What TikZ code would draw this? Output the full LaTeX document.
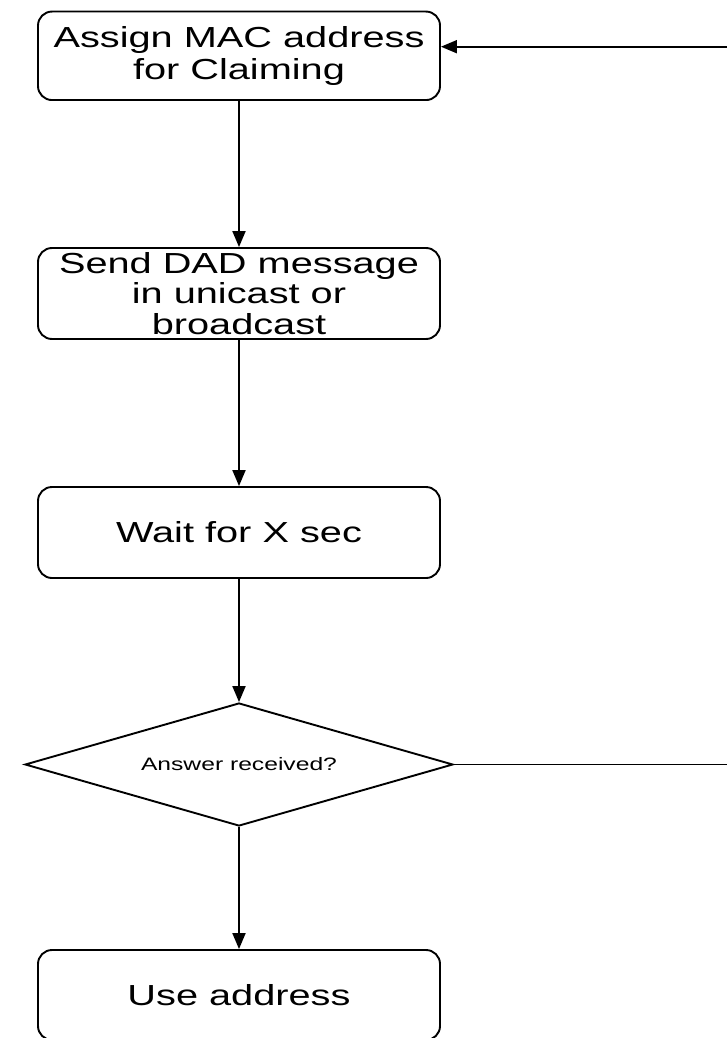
\documentclass[tikz,border=0pt]{standalone}
\usepackage{fontspec}
\newfontfamily\flowfont[FakeStretch=1.37]{Liberation Sans}
\usetikzlibrary{shapes.geometric,arrows.meta}
\tikzset{
  procbox/.style={draw=black, line width=1.9pt, rounded corners=14pt,
    minimum width=402pt, inner sep=0pt, align=center,
    font=\flowfont\fontsize{29pt}{30.5pt}\selectfont},
  decbox/.style={draw=black, line width=1.9pt, diamond, aspect=3.5,
    minimum width=428pt, minimum height=123pt, inner sep=0pt,
    font=\flowfont\fontsize{18pt}{20pt}\selectfont},
  flow/.style={line width=1.9pt, -{Triangle[length=16pt,width=13pt]}},
  plain/.style={line width=1.9pt}
}
\begin{document}
\begin{tikzpicture}[x=1pt,y=-1pt]
\useasboundingbox (0,0) rectangle (727,1038);
\node[procbox, minimum height=88.5pt] (b1) at (239,55.8) {\raisebox{-2pt}{Assign MAC address}\\[2pt]\raisebox{-2pt}{for Claiming}};
\node[procbox, minimum height=91pt] (b2) at (239,293.5) {Send DAD message\\in unicast or\\broadcast};
\node[procbox, minimum height=91pt] (b3) at (239,532.5) {Wait for X sec};
\node[decbox] (d) at (239,764.5) {Answer received?};
\node[procbox, minimum height=90pt] (b4) at (239,995) {Use address};
\coordinate (topR) at (727,46.7);
\coordinate (midR) at (727,764.5);
\draw[flow] (b1) -- (b2);
\draw[flow] (b2) -- (b3);
\draw[flow] (b3) -- (d);
\draw[flow] (d) -- (b4);
\draw[plain] (d.east) -- (midR);
\draw[flow] (topR) -- (topR -| b1.east);
\end{tikzpicture}
\end{document}
